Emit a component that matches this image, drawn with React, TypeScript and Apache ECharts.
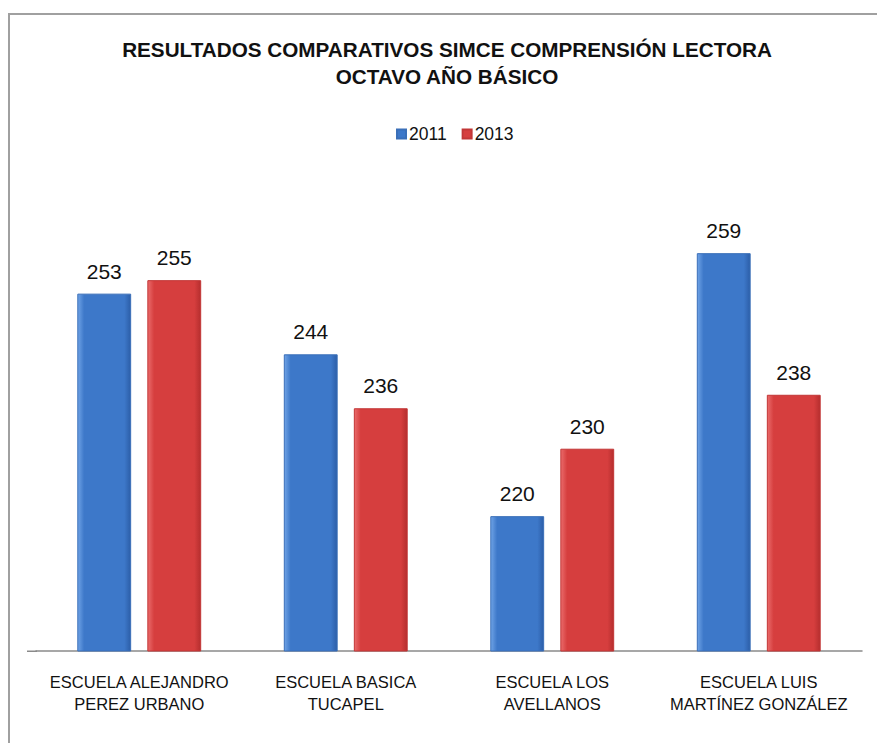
import React, { useEffect, useRef } from "react";
import * as echarts from "echarts";

const categories = [
  "ESCUELA ALEJANDRO\nPEREZ URBANO",
  "ESCUELA BASICA\nTUCAPEL",
  "ESCUELA LOS\nAVELLANOS",
  "ESCUELA LUIS\nMARTÍNEZ GONZÁLEZ",
];
const seriesNames = ["2011", "2013"];
const values2011 = [253, 244, 220, 259];
const values2013 = [255, 236, 230, 238];

const SANS = '"Liberation Sans", Arial, sans-serif';

function barColor(light: string, mid: string, dark: string) {
  return new echarts.graphic.LinearGradient(0, 0, 1, 0, [
    { offset: 0, color: light },
    { offset: 0.12, color: mid },
    { offset: 0.88, color: mid },
    { offset: 1, color: dark },
  ]);
}

export default function App() {
  const ref = useRef<HTMLDivElement>(null);
  useEffect(() => {
    if (!ref.current) return;
    const chart = echarts.init(ref.current, undefined, { renderer: "svg" });
    const labelStyle = {
      show: true,
      position: "top" as const,
      distance: 12,
      fontSize: 21,
      color: "#111",
      fontFamily: SANS,
    };
    chart.setOption({
      animation: false,
      backgroundColor: "#ffffff",
      title: {
        text: "RESULTADOS COMPARATIVOS SIMCE COMPRENSIÓN LECTORA\nOCTAVO AÑO BÁSICO",
        left: 442,
        textAlign: "center",
        top: 31,
        textStyle: {
          fontFamily: SANS,
          fontWeight: "bold",
          fontSize: 20.7,
          lineHeight: 27,
          color: "#111",
        },
      },
      legend: {
        data: seriesNames,
        top: 120,
        left: 391,
        itemWidth: 9,
        itemHeight: 9,
        itemGap: 15,
        icon: "rect",
        textStyle: { fontFamily: SANS, fontSize: 17.5, color: "#111", padding: [0, 0, 0, -2] },
      },
      grid: { left: 36, right: 15, top: 179, bottom: 92 },
      xAxis: {
        type: "category",
        data: categories,
        axisTick: { show: false },
        axisLine: { lineStyle: { color: "#8a8a8a", width: 1.5 } },
        axisLabel: {
          interval: 0,
          margin: 20,
          fontFamily: SANS,
          fontSize: 16.5,
          lineHeight: 22,
          color: "#111",
        },
      },
      yAxis: {
        type: "value",
        min: 200,
        max: 270,
        show: false,
        splitLine: { show: false },
      },
      graphic: [
        { type: "line", shape: { x1: 9, y1: 14, x2: 9, y2: 743 }, style: { stroke: "#a0a0a0", lineWidth: 2 } },
        { type: "line", shape: { x1: 8, y1: 14, x2: 877, y2: 14 }, style: { stroke: "#a0a0a0", lineWidth: 2 } },
        { type: "line", shape: { x1: 27, y1: 651.25, x2: 37, y2: 651.25 }, style: { stroke: "#8a8a8a", lineWidth: 1.5 } },
      ],
      series: [
        {
          name: seriesNames[0],
          type: "bar",
          data: values2011,
          barGap: "30%",
          barCategoryGap: "40%",
          itemStyle: {
            color: barColor("#6fa3e6", "#3d78c9", "#2c5ea8"),
            borderColor: "#3a6fb8",
            borderWidth: 1,
          },
          label: labelStyle,
        },
        {
          name: seriesNames[1],
          type: "bar",
          data: values2013,
          itemStyle: {
            color: barColor("#ea6b6b", "#d63e3e", "#b52e2e"),
            borderColor: "#c23636",
            borderWidth: 1,
          },
          label: labelStyle,
        },
      ],
    });
    return () => chart.dispose();
  }, []);
  return (
    <div
      ref={ref}
      style={{ position: "fixed", left: 0, top: 0, width: 877, height: 743 }}
    />
  );
}
